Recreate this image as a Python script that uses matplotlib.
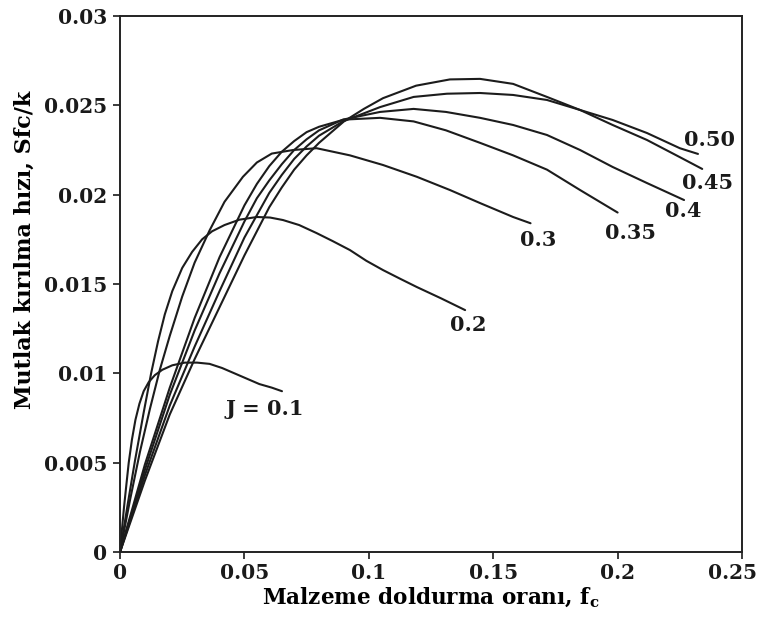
import matplotlib
matplotlib.use("Agg")
import matplotlib.pyplot as plt
from matplotlib.transforms import ScaledTranslation

plt.rcParams['font.family'] = ['DejaVu Serif']
plt.rcParams['font.weight'] = 'bold'
plt.rcParams['mathtext.fontset'] = 'dejavuserif'

# curves: fill ratio fc -> absolute breakage rate
x_01 = [0, 0.0008, 0.0016, 0.0025, 0.0035, 0.0048, 0.0062, 0.0078, 0.0095, 0.0115, 0.014,
        0.017, 0.021, 0.026, 0.031, 0.036, 0.041, 0.046, 0.051, 0.056, 0.061, 0.0651]
y_01 = [0, 0.0013, 0.0025, 0.0037, 0.0050, 0.0063, 0.0074, 0.0083, 0.0090, 0.0095, 0.0099,
        0.0102, 0.01045, 0.0106, 0.0106, 0.01053, 0.0103, 0.0100, 0.0097, 0.0094, 0.0092, 0.0090]

x_02 = [0, 0.003, 0.006, 0.0095, 0.0125, 0.0153, 0.018, 0.021, 0.025, 0.029, 0.033, 0.037,
        0.042, 0.048, 0.055, 0.0603, 0.0655, 0.072, 0.079, 0.0855, 0.0924, 0.099, 0.1057,
        0.1125, 0.1193, 0.129, 0.1387]
y_02 = [0, 0.0026, 0.0051, 0.0078, 0.0100, 0.0118, 0.0133, 0.0146, 0.0159, 0.0168, 0.0175, 0.01795,
        0.0183, 0.01860, 0.01875, 0.01872, 0.01858, 0.0183, 0.01785, 0.0174, 0.0169, 0.0163, 0.01578,
        0.0153, 0.01483, 0.0142, 0.01354]

x_03 = [0, 0.004, 0.008, 0.012, 0.016, 0.020, 0.025, 0.030, 0.036, 0.042, 0.0494, 0.055, 0.061,
        0.0696, 0.079, 0.0924, 0.1057, 0.1193, 0.1326, 0.1447, 0.158, 0.165]
y_03 = [0, 0.0029, 0.0056, 0.0080, 0.0102, 0.0121, 0.0143, 0.0162, 0.0180, 0.0196, 0.0210, 0.0218,
        0.0223, 0.0225, 0.0226, 0.0222, 0.02166, 0.0210, 0.02026, 0.01953, 0.01875, 0.0184]

x_035 = [0, 0.01, 0.02, 0.03, 0.04, 0.05, 0.055, 0.06, 0.065, 0.07, 0.075, 0.08, 0.09, 0.1045,
         0.118, 0.131, 0.1447, 0.158, 0.1716, 0.1849, 0.200]
y_035 = [0, 0.0049, 0.0092, 0.0131, 0.0165, 0.0194, 0.0206, 0.0216, 0.0224, 0.0230, 0.0235,
         0.0238, 0.0242, 0.0243, 0.0241, 0.0236, 0.0229, 0.0222, 0.0214, 0.02026, 0.0190]

x_04 = [0, 0.01, 0.02, 0.03, 0.04, 0.05, 0.055, 0.06, 0.065, 0.07, 0.075, 0.08, 0.0896, 0.1045,
        0.118, 0.131, 0.1447, 0.158, 0.1716, 0.1849, 0.198, 0.2118, 0.2267]
y_04 = [0, 0.0046, 0.0088, 0.0124, 0.0156, 0.0185, 0.0198, 0.0208, 0.0217, 0.0225, 0.0231,
        0.0236, 0.0242, 0.02463, 0.0248, 0.02463, 0.0243, 0.0239, 0.02334, 0.0225, 0.02155,
        0.02065, 0.0197]

x_045 = [0, 0.01, 0.02, 0.03, 0.04, 0.05, 0.06, 0.065, 0.07, 0.075, 0.08, 0.09, 0.098, 0.1057,
         0.119, 0.1326, 0.1447, 0.158, 0.1716, 0.1849, 0.198, 0.2118, 0.225, 0.234]
y_045 = [0, 0.0040, 0.0077, 0.0108, 0.0137, 0.0166, 0.0193, 0.0204, 0.0214, 0.0222, 0.0229,
         0.0241, 0.0248, 0.0254, 0.0261, 0.02645, 0.02648, 0.0262, 0.02547, 0.02474, 0.0239,
         0.02306, 0.0221, 0.02144]

x_050 = [0, 0.01, 0.02, 0.03, 0.04, 0.05, 0.06, 0.065, 0.07, 0.075, 0.08, 0.0896, 0.1045, 0.118,
         0.1314, 0.1447, 0.158, 0.1716, 0.1849, 0.198, 0.2118, 0.225, 0.2323]
y_050 = [0, 0.0043, 0.0082, 0.0115, 0.0146, 0.0176, 0.0201, 0.0211, 0.0220, 0.0227, 0.0233,
         0.0241, 0.0249, 0.02547, 0.02565, 0.02569, 0.02558, 0.0253, 0.02474, 0.02418, 0.02345,
         0.0226, 0.02228]

curves = [(x_01, y_01), (x_02, y_02), (x_03, y_03), (x_035, y_035),
          (x_04, y_04), (x_045, y_045), (x_050, y_050)]

labels = ["J = 0.1", "0.2", "0.3", "0.35", "0.4", "0.45", "0.50"]
label_x = [0.0583, 0.140, 0.168, 0.205, 0.2263, 0.2363, 0.2371]
label_y = [0.0080, 0.0127, 0.01746, 0.01785, 0.0191, 0.02065, 0.02306]

x_ticks = [0, 0.05, 0.1, 0.15, 0.2, 0.25]
x_ticklabels = ["0", "0.05", "0.1", "0.15", "0.2", "0.25"]
y_ticks = [0, 0.005, 0.01, 0.015, 0.02, 0.025, 0.03]
y_ticklabels = ["0", "0.005", "0.01", "0.015", "0.02", "0.025", "0.03"]

fig = plt.figure(figsize=(7.63, 6.22), dpi=100)
ax = fig.add_axes([0.1573, 0.1125, 0.8152, 0.8618])

for xs, ys in curves:
    ax.plot(xs, ys, color='#1c1c1c', lw=1.5, solid_capstyle='round', solid_joinstyle='round')

for t, lx, ly in zip(labels, label_x, label_y):
    ax.text(lx, ly, t, ha='center', va='center', fontsize=15, fontweight='bold', color='#1a1a1a')

ax.set_xlim(0, 0.25)
ax.set_ylim(0, 0.03)
ax.set_xticks(x_ticks)
ax.set_xticklabels(x_ticklabels)
ax.set_yticks(y_ticks)
ax.set_yticklabels(y_ticklabels)
ax.tick_params(direction='out', length=5, width=1.2, labelsize=14.5, colors='#1a1a1a')
ax.tick_params(axis='y', pad=4)
ax.tick_params(axis='x', pad=3)
for s in ax.spines.values():
    s.set_linewidth(1.4)
    s.set_color('#222222')

# last x label sits a little left of its tick, as in the source
last = ax.get_xticklabels()[-1]
last.set_transform(last.get_transform() + ScaledTranslation(-10 / 100, 0, fig.dpi_scale_trans))

ax.set_xlabel(r"Malzeme doldurma oranı, $\mathbf{f_c}$", fontsize=15.5, fontweight='bold', labelpad=2)
ax.set_ylabel("Mutlak kırılma hızı, Sfc/k", fontsize=16, fontweight='bold')
ax.yaxis.set_label_coords(-0.135, 0.563)

fig.savefig("out.png", dpi=100)
